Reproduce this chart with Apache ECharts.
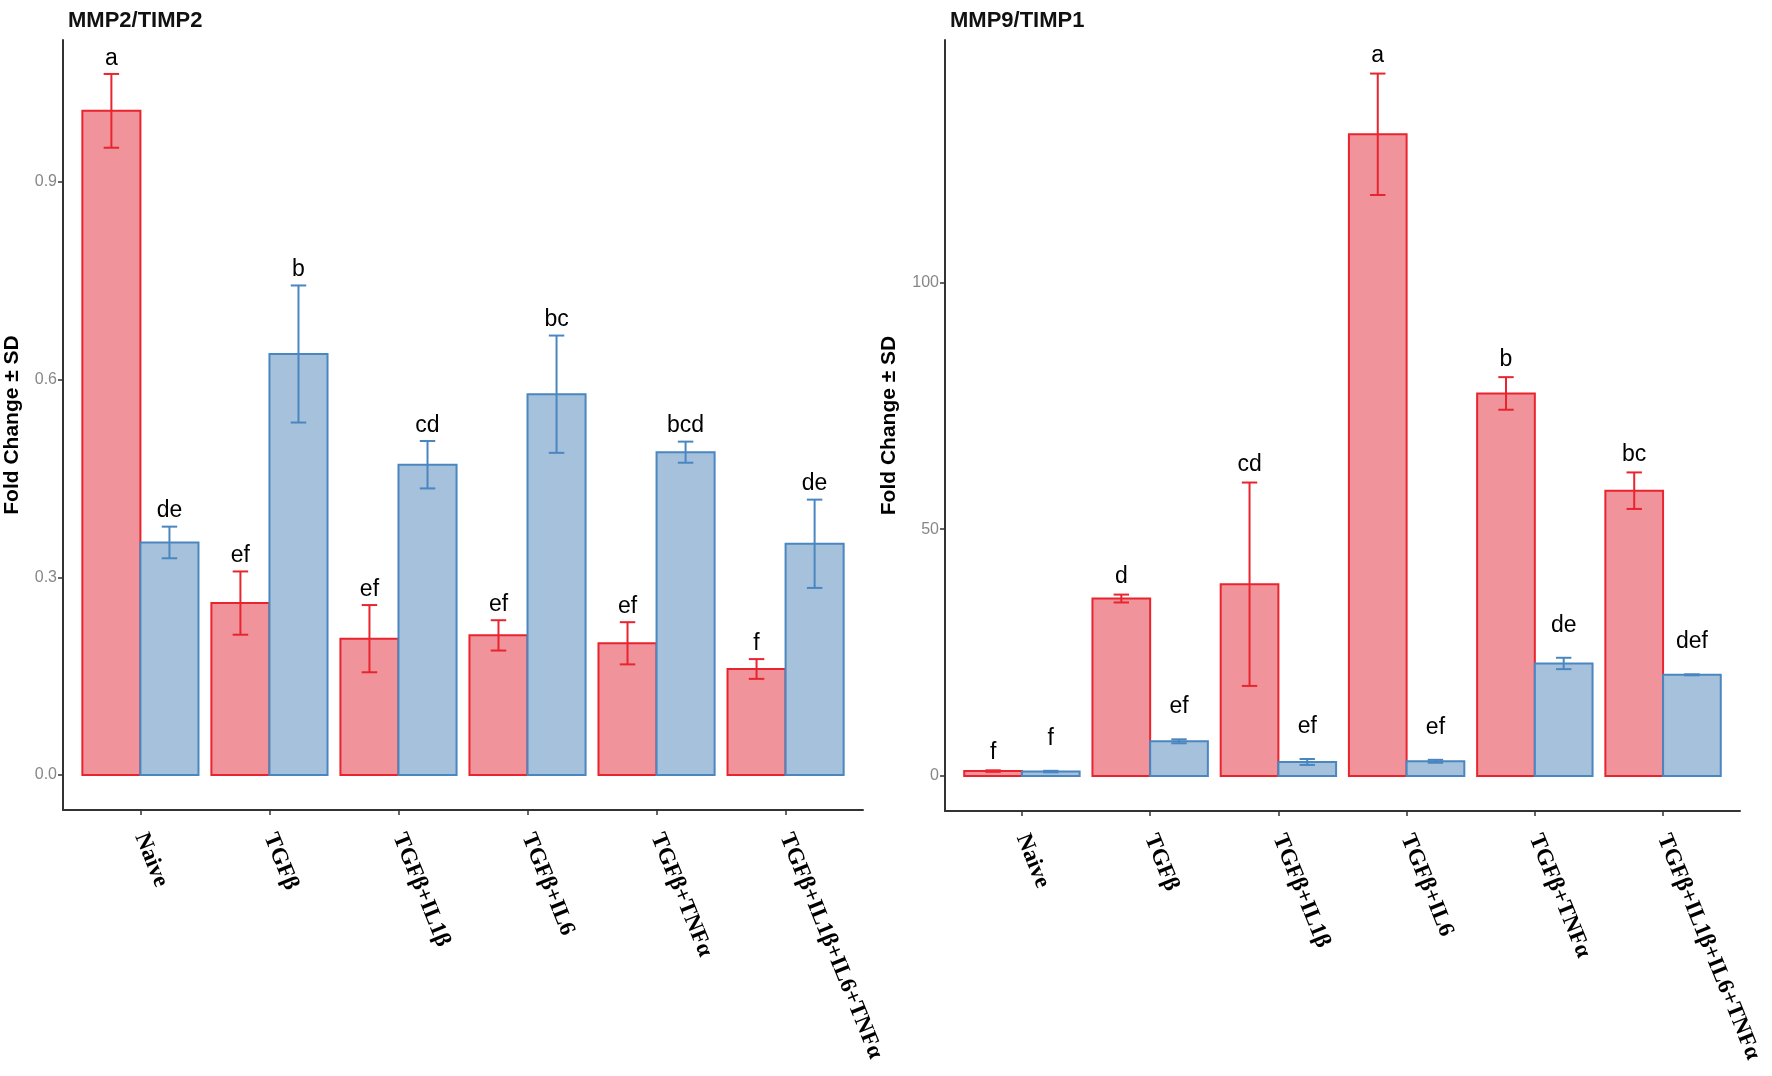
<!DOCTYPE html>
<html>
<head>
<meta charset="utf-8">
<script src="https://cdn.jsdelivr.net/npm/echarts@6.0.0/dist/echarts.min.js"></script>
<style>
  html, body { margin: 0; padding: 0; background: #fff; }
  #chart { width: 1772px; height: 1076px; }
</style>
</head>
<body>
<div id="chart"></div>
<script>
// categories (same for both panels)
var categories = ['Naive', 'TGFβ', 'TGFβ+IL1β', 'TGFβ+IL6', 'TGFβ+TNFα', 'TGFβ+IL1β+IL6+TNFα'];

// MMP2/TIMP2
var mmp2Red = [1.008, 0.261, 0.207, 0.212, 0.200, 0.161];
var mmp2RedSd = [0.056, 0.048, 0.051, 0.023, 0.032, 0.015];
var mmp2RedLetters = ['a', 'ef', 'ef', 'ef', 'ef', 'f'];
var mmp2Blue = [0.353, 0.639, 0.471, 0.578, 0.490, 0.351];
var mmp2BlueSd = [0.024, 0.104, 0.036, 0.089, 0.016, 0.067];
var mmp2BlueLetters = ['de', 'b', 'cd', 'bc', 'bcd', 'de'];
var mmp2Ticks = [0, 0.3, 0.6, 0.9];

// MMP9/TIMP1
var mmp9Red = [1.0, 35.95, 38.85, 130.0, 77.5, 57.8];
var mmp9RedSd = [0.15, 0.8, 20.6, 12.3, 3.3, 3.7];
var mmp9RedLetters = ['f', 'd', 'cd', 'a', 'b', 'bc'];
var mmp9Blue = [0.9, 7.03, 2.84, 2.98, 22.8, 20.5];
var mmp9BlueSd = [0.15, 0.4, 0.6, 0.3, 1.15, 0.1];
var mmp9BlueLetters = ['f', 'ef', 'ef', 'ef', 'de', 'def'];
var mmp9Ticks = [0, 50, 100];

var catIdx = [0, 1, 2, 3, 4, 5];

var RED = { fill: '#F0939B', line: '#E8252F' };
var BLUE = { fill: '#A5C1DC', line: '#4A86C0' };

var chart = echarts.init(document.getElementById('chart'));

// bar + error bar + letter, one item per category
function makeSeries(gridIdx, means, sds, letters, col, side, pad) {
	var data = [];
	for (var i = 0; i < means.length; i++) {
		data.push([i, means[i], sds[i]]);
	}
	return {
		type: 'custom',
		xAxisIndex: gridIdx,
		yAxisIndex: gridIdx,
		data: data,
		renderItem: function (params, api) {
			var x = api.value(0);
			var m = api.value(1);
			var sd = api.value(2);
			var letter = letters[params.dataIndex];
			var x0 = side < 0 ? x - 0.45 : x;
			var x1 = side < 0 ? x : x + 0.45;
			var cx = (x0 + x1) / 2;
			var p0 = api.coord([x0, m]);
			var p1 = api.coord([x1, 0]);
			var eTop = api.coord([cx, m + sd]);
			var eBot = api.coord([cx, m - sd]);
			var capL = api.coord([cx - 0.06, 0])[0];
			var capR = api.coord([cx + 0.06, 0])[0];
			var lineStyle = { stroke: col.line, lineWidth: 2 };
			return {
				type: 'group',
				children: [
					{ type: 'rect', shape: { x: p0[0], y: p0[1], width: p1[0] - p0[0], height: p1[1] - p0[1] },
					  style: { fill: col.fill, stroke: col.line, lineWidth: 2 } },
					{ type: 'line', shape: { x1: eTop[0], y1: eTop[1], x2: eBot[0], y2: eBot[1] }, style: lineStyle },
					{ type: 'line', shape: { x1: capL, y1: eTop[1], x2: capR, y2: eTop[1] }, style: lineStyle },
					{ type: 'line', shape: { x1: capL, y1: eBot[1], x2: capR, y2: eBot[1] }, style: lineStyle },
					{ type: 'text', x: eTop[0], y: eTop[1] - pad,
					  style: { text: letter, fill: '#000', font: '23px "Liberation Sans", Arial, sans-serif',
					           textAlign: 'center', textVerticalAlign: 'bottom' } }
				]
			};
		}
	};
}

function xAxisFor(gridIdx) {
	return {
		type: 'value',
		gridIndex: gridIdx,
		min: -0.6,
		max: 5.6,
		splitLine: { show: false },
		axisLine: { show: true, onZero: false, lineStyle: { color: '#333', width: 2 } },
		axisTick: { show: true, customValues: catIdx, length: 5, lineStyle: { color: '#333', width: 1.5 } },
		axisLabel: {
			customValues: catIdx,
			rotate: -68,
			margin: 24,
			color: '#000',
			fontFamily: '"Liberation Serif", "Times New Roman", serif',
			fontWeight: 'bold',
			fontSize: 23,
			formatter: function (v) { return categories[Math.round(v)]; }
		}
	};
}

function yAxisFor(gridIdx, min, max, ticks, digits, gap) {
	return {
		type: 'value',
		gridIndex: gridIdx,
		min: min,
		max: max,
		name: 'Fold Change ± SD',
		nameLocation: 'middle',
		nameRotate: 90,
		nameGap: gap,
		nameTextStyle: { color: '#000', fontWeight: 'bold', fontSize: 21, fontFamily: '"Liberation Sans", Arial, sans-serif' },
		splitLine: { show: false },
		axisLine: { show: true, onZero: false, lineStyle: { color: '#333', width: 2 } },
		axisTick: { show: true, customValues: ticks, length: 5, lineStyle: { color: '#333', width: 1.5 } },
		axisLabel: {
			customValues: ticks,
			color: '#878787',
			fontSize: 16,
			margin: 6,
			fontFamily: '"Liberation Sans", Arial, sans-serif',
			formatter: function (v) { return v.toFixed(digits); }
		}
	};
}

var option = {
	backgroundColor: '#fff',
	animation: false,
	title: [
		{ text: 'MMP2/TIMP2', left: 63, top: 5,
		  textStyle: { fontSize: 22, fontWeight: 'bold', color: '#111', fontFamily: '"Liberation Sans", Arial, sans-serif' } },
		{ text: 'MMP9/TIMP1', left: 945, top: 5,
		  textStyle: { fontSize: 22, fontWeight: 'bold', color: '#111', fontFamily: '"Liberation Sans", Arial, sans-serif' } }
	],
	grid: [
		{ left: 63, top: 40, width: 800, height: 770 },
		{ left: 945, top: 40, width: 795, height: 771 }
	],
	xAxis: [xAxisFor(0), xAxisFor(1)],
	yAxis: [
		yAxisFor(0, -0.053, 1.1155, mmp2Ticks, 1, 40),
		yAxisFor(1, -7.09, 149.1, mmp9Ticks, 0, 45)
	],
	series: [
		makeSeries(0, mmp2Red, mmp2RedSd, mmp2RedLetters, RED, -1, 4),
		makeSeries(0, mmp2Blue, mmp2BlueSd, mmp2BlueLetters, BLUE, 1, 4),
		makeSeries(1, mmp9Red, mmp9RedSd, mmp9RedLetters, RED, -1, 6),
		makeSeries(1, mmp9Blue, mmp9BlueSd, mmp9BlueLetters, BLUE, 1, 21)
	]
};

chart.setOption(option);
</script>
</body>
</html>
